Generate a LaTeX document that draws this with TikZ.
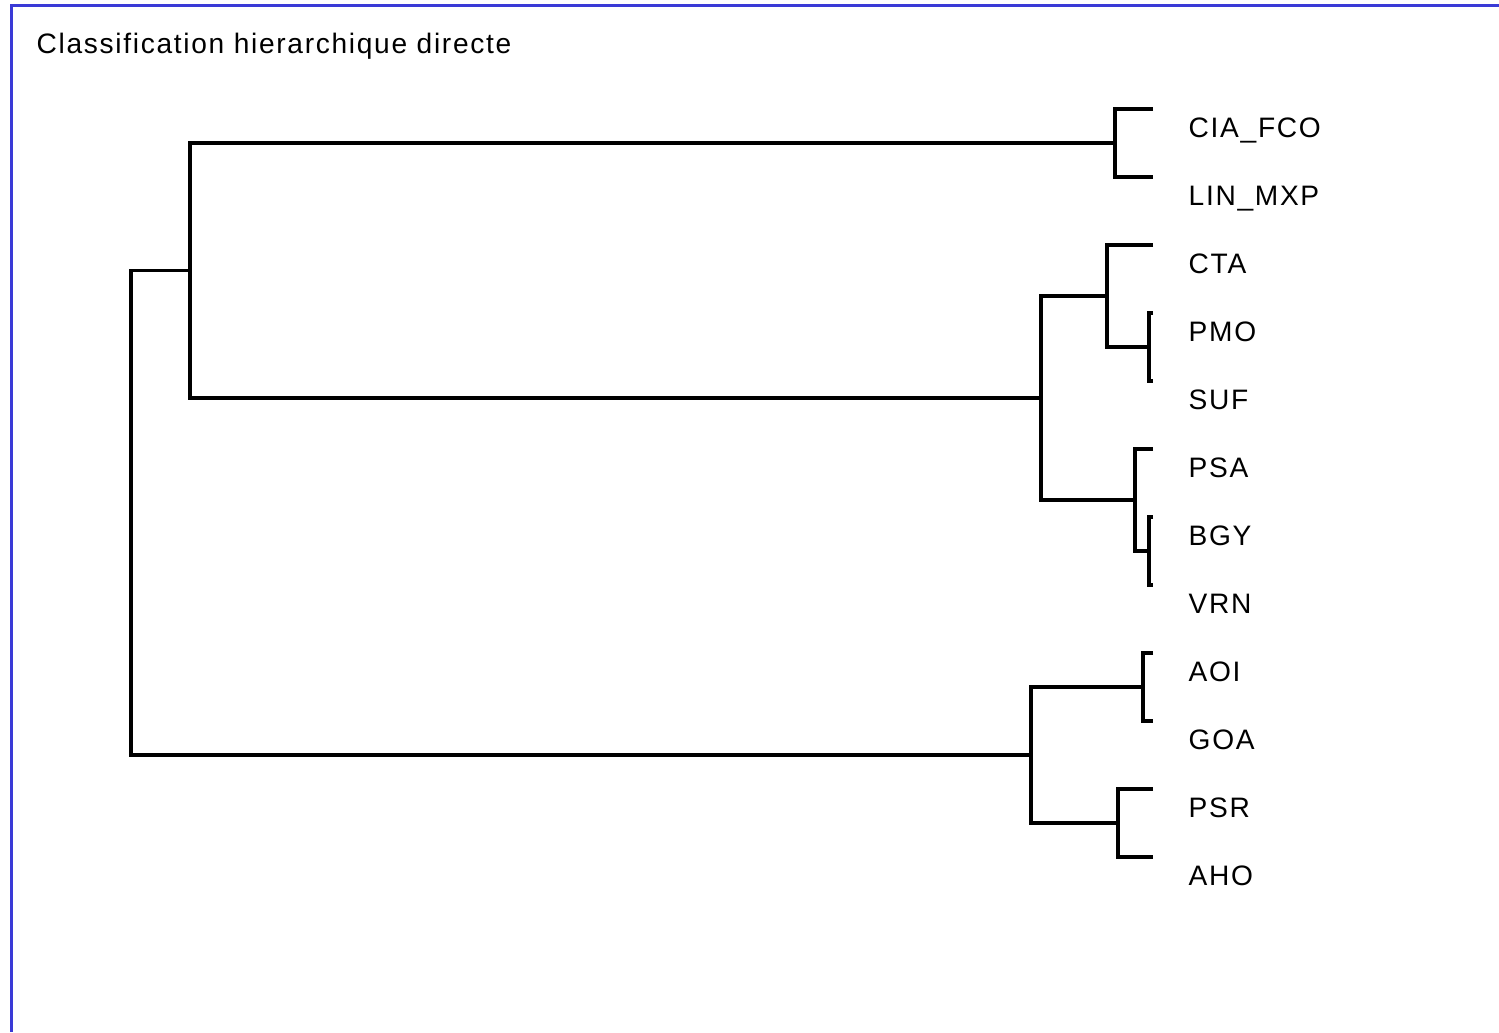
\documentclass[tikz,border=0pt]{standalone}
\usepackage{fontspec}
\setmainfont{Liberation Sans}[LetterSpace=6]
\usetikzlibrary{calc}

\definecolor{frameblue}{RGB}{58,58,214}
\tikzset{
    branch/.style={line width=1pt},
    leaf/.style={anchor=base west, inner sep=0pt, font=\fontsize{8}{10}\selectfont},
}

\begin{document}
\begin{tikzpicture}[x=0.01cm, y=-0.01cm]
    \useasboundingbox (0,0) rectangle (1499,1032);
    % Window frame and title
    \draw[frameblue, line width=0.6pt] (1499,5.5) -- (11.5,5.5) -- (11.5,1032);
    \node[leaf] (title) at (36,53) {Classification hierarchique directe};
    % Leaf ends (one every 68 px)
    \coordinate (cia) at (1153,109);
    \coordinate (lin) at (1153,177);
    \coordinate (cta) at (1153,245);
    \coordinate (pmo) at (1153,313);
    \coordinate (suf) at (1153,381);
    \coordinate (psa) at (1153,449);
    \coordinate (bgy) at (1153,517);
    \coordinate (vrn) at (1153,585);
    \coordinate (aoi) at (1153,653);
    \coordinate (goa) at (1153,721);
    \coordinate (psr) at (1153,789);
    \coordinate (aho) at (1153,857);
    % Leaf labels
    \node[leaf] (lcia) at ($(cia)+(35,28)$) {CIA\_FCO};
    \node[leaf] (llin) at ($(lin)+(35,28)$) {LIN\_MXP};
    \node[leaf] (lcta) at ($(cta)+(35,28)$) {CTA};
    \node[leaf] (lpmo) at ($(pmo)+(35,28)$) {PMO};
    \node[leaf] (lsuf) at ($(suf)+(35,28)$) {SUF};
    \node[leaf] (lpsa) at ($(psa)+(35,28)$) {PSA};
    \node[leaf] (lbgy) at ($(bgy)+(35,28)$) {BGY};
    \node[leaf] (lvrn) at ($(vrn)+(35,28)$) {VRN};
    \node[leaf] (laoi) at ($(aoi)+(35,28)$) {AOI};
    \node[leaf] (lgoa) at ($(goa)+(35,28)$) {GOA};
    \node[leaf] (lpsr) at ($(psr)+(35,28)$) {PSR};
    \node[leaf] (laho) at ($(aho)+(35,28)$) {AHO};
    % Merge points (x = level, y = middle of the two children)
    \coordinate (m1) at (1115,143);
    \coordinate (m2) at (1149,347);
    \coordinate (m3) at (1107,296);
    \coordinate (m4) at (1149,551);
    \coordinate (m5) at (1135,500);
    \coordinate (m6) at (1041,398);
    \coordinate (m7) at (190,270.5);
    \coordinate (m8) at (1143,687);
    \coordinate (m9) at (1118,823);
    \coordinate (m10) at (1031,755);
    \coordinate (m11) at (131,512.75);
    % Branches
    \draw[branch] (cia) -| (m1) |- (lin);
    \draw[branch] (pmo) -| (m2) |- (suf);
    \draw[branch] (cta) -| (m3) |- (m2);
    \draw[branch] (bgy) -| (m4) |- (vrn);
    \draw[branch] (psa) -| (m5) |- (m4);
    \draw[branch] (m3) -| (m6) |- (m5);
    \draw[branch] (m1) -| (m7) |- (m6);
    \draw[branch] (aoi) -| (m8) |- (goa);
    \draw[branch] (psr) -| (m9) |- (aho);
    \draw[branch] (m8) -| (m10) |- (m9);
    \draw[branch] (m7) -| (m11) |- (m10);
\end{tikzpicture}
\end{document}
